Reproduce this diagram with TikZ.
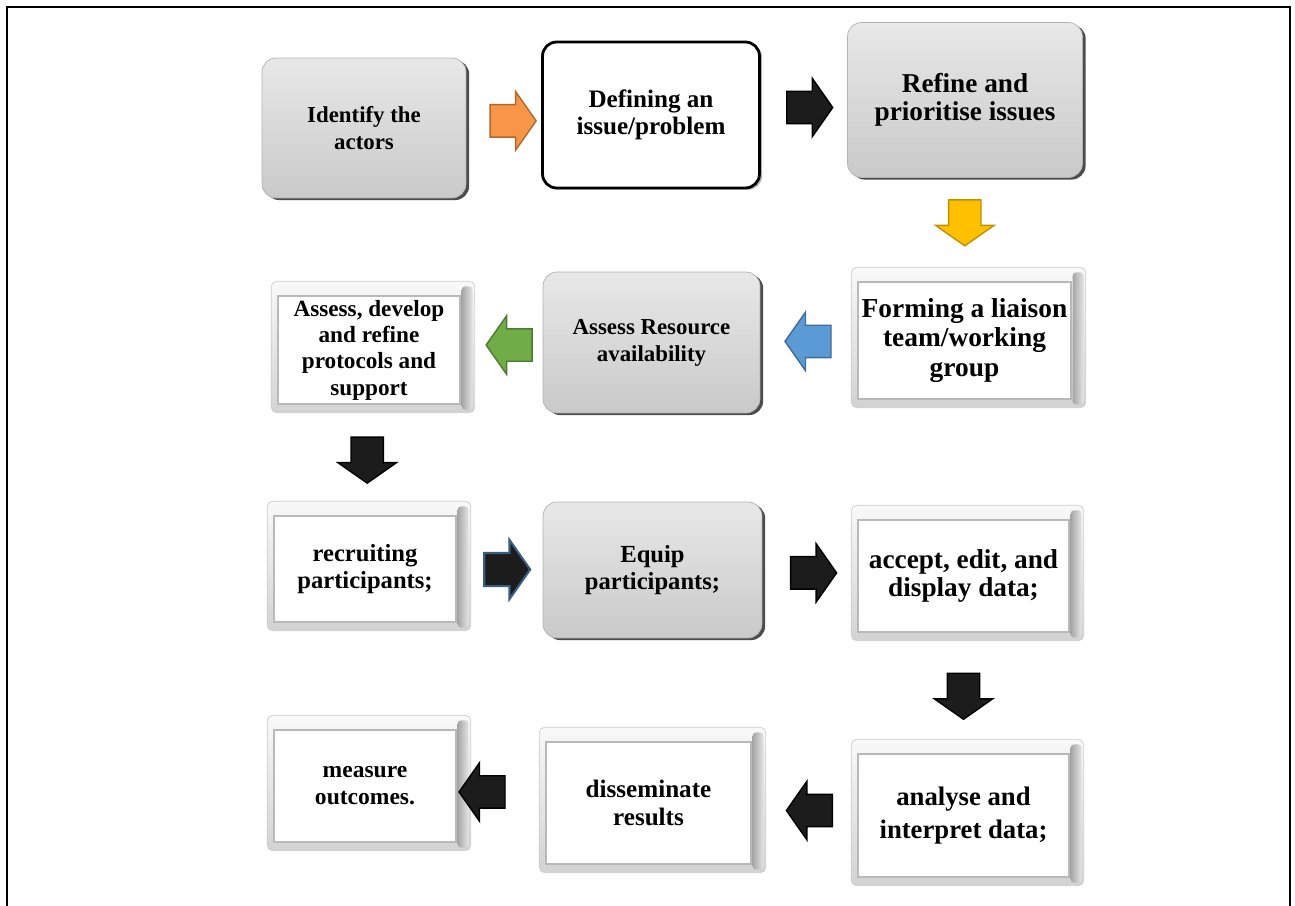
\documentclass[tikz,border=0pt]{standalone}
\usepackage{fontspec}
\setmainfont{Liberation Serif}
\usetikzlibrary{shapes.arrows,calc,backgrounds}
\definecolor{arrorange}{HTML}{F79646}
\definecolor{arryellow}{HTML}{FFC000}
\definecolor{arrblue}{HTML}{5B9BD5}
\definecolor{arrgreen}{HTML}{70AD47}
\definecolor{arrblack}{HTML}{1C1C1C}

\begin{document}
\begin{tikzpicture}[x=0.02cm, y=-0.02cm,
  gbox/.style={rounded corners=8pt, align=center, inner sep=2pt, top color=gray!18, bottom color=gray!42, draw=gray!60,
    preaction={fill=black!70, transform canvas={xshift=1.8pt, yshift=-1.2pt}}},
  wbox/.style={rounded corners=8pt, align=center, inner sep=2pt, fill=white, draw=black, line width=1.6pt,
    preaction={fill=gray!60, transform canvas={xshift=1.5pt, yshift=-1pt}}},
  bvl/.style={fill=white, draw=gray!55, line width=0.8pt, align=center, inner sep=0pt},
  frm/.style={rounded corners=3pt, top color=gray!5, bottom color=gray!35, draw=gray!40},
  rim/.style={rounded corners=2pt, left color=gray!70, right color=gray!20},
  barr/.style={single arrow, line width=0.8pt, inner sep=0.31cm, minimum width=1.14cm, minimum height=0.92cm,
    single arrow head extend=0.26cm, single arrow tip angle=110},
  toR/.style={barr, shape border rotate=0},
  toL/.style={barr, shape border rotate=180},
  toD/.style={barr, shape border rotate=270},
  blk/.style={fill=arrblack, draw=black}]
\useasboundingbox (0,0) rectangle (1295,906);
\draw[line width=0.9pt] (7,906) -- (7,7) -- (1290,7) -- (1290,906);

\node[gbox, minimum width=4.08cm, minimum height=2.8cm, font=\fontsize{13}{15}\selectfont\bfseries] (actor) at (364,128) {Identify the\\actors};
\node[wbox, minimum width=4.34cm, minimum height=2.92cm, font=\fontsize{14.3}{15.2}\selectfont\bfseries] (define) at (651,115) {Defining an\\issue/problem};
\node[gbox, minimum width=4.7cm, minimum height=3.1cm, font=\fontsize{15.5}{16}\selectfont\bfseries] (refine) at (965,100) {Refine and\\prioritise issues};
\node[bvl, minimum width=4.26cm, minimum height=2.34cm, font=\fontsize{15.6}{17}\selectfont\bfseries] (form) at (964.5,340.5) {Forming a liaison\\team/working\\group};
\node[gbox, minimum width=4.34cm, minimum height=2.82cm, font=\fontsize{13}{15.3}\selectfont\bfseries] (avail) at (651.5,342.5) {Assess Resource\\availability};
\node[bvl, minimum width=3.64cm, minimum height=2.16cm, font=\fontsize{13.2}{15}\selectfont\bfseries] (prot) at (369,350) {Assess, develop\\and refine\\protocols and\\support};
\node[bvl, minimum width=3.64cm, minimum height=2.12cm, font=\fontsize{14}{15.5}\selectfont\bfseries] (recr) at (365,569) {recruiting\\participants;};
\node[gbox, minimum width=4.38cm, minimum height=2.72cm, font=\fontsize{14}{15.5}\selectfont\bfseries] (equip) at (652.5,570) {Equip\\participants;};
\node[bvl, minimum width=4.22cm, minimum height=2.24cm, font=\fontsize{15.5}{16}\selectfont\bfseries] (accp) at (963.5,576) {accept, edit, and\\display data;};
\node[bvl, minimum width=4.22cm, minimum height=2.46cm, font=\fontsize{15.2}{19}\selectfont\bfseries] (anal) at (963.5,815.5) {analyse and\\interpret data;};
\node[bvl, minimum width=4.1cm, minimum height=2.44cm, font=\fontsize{14.3}{15.5}\selectfont\bfseries] (diss) at (648.5,803) {disseminate\\results};
\node[bvl, minimum width=3.64cm, minimum height=2.24cm, font=\fontsize{13.4}{15.3}\selectfont\bfseries] (meas) at (365,786) {measure\\outcomes.};

\begin{scope}[on background layer]
\foreach \n in {form,prot,recr,accp,anal,diss,meas}{
  \path[frm] ([shift={(-6,-14)}]\n.north west) rectangle ([shift={(14,8)}]\n.south east);
  \path[rim] ([shift={(1,-9)}]\n.north east) rectangle ([shift={(12,5)}]\n.south east);
}
\end{scope}

\node[toR, fill=arrorange, draw=arrorange!70!black] (a1) at ($(actor.east)!.55!(define.west)$) {};
\node[toR, blk] (a2) at ($(define.east)!.5!(refine.west)$) {};
\node[toD, fill=arryellow, draw=arryellow!75!black] (a3) at ($(refine.south)!.38!(form.north)$) {};
\node[toL, fill=arrblue, draw=arrblue!70!black] (a4) at ($(form.west)!.45!(avail.east)$) {};
\node[toL, fill=arrgreen, draw=arrgreen!70!black] (a5) at ($(avail.west)!.34!(prot.east)$) {};
\node[toD, blk] (a6) at ($(prot.south)!.45!(recr.north)$) {};
\node[toR, fill=arrblack, draw=arrblue!60!black, line width=1.2pt] (a7) at ($(recr.east)!.52!(equip.west)$) {};
\node[toR, blk] (a8) at ($(equip.east)!.48!(accp.west)$) {};
\node[toD, blk] (a9) at ($(accp.south)!.48!(anal.north)$) {};
\node[toL, blk] (a10) at ($(anal.west)!.4!(diss.east)$) {};
\node[toL, blk] (a11) at ($(diss.west)!.65!(meas.east)$) {};
\end{tikzpicture}
\end{document}
